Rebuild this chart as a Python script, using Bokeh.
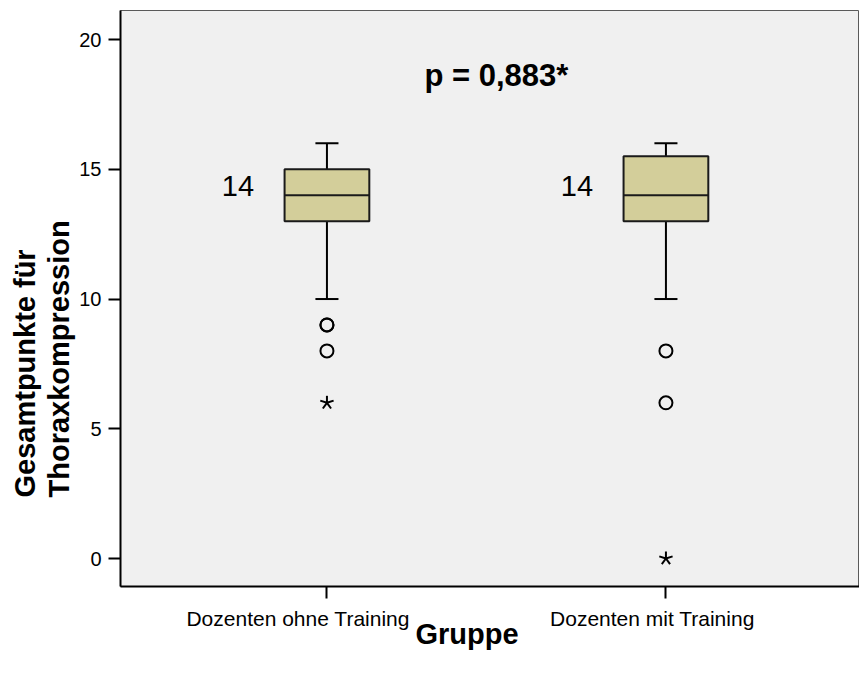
import numpy as np
from bokeh.plotting import figure
from bokeh.models import Range1d, FixedTicker, Title, ColumnDataSource, LinearAxis
from bokeh.core.properties import value
from bokeh.embed import file_html
from bokeh.resources import INLINE

# ---- data ----
groups = ["Dozenten ohne Training", "Dozenten mit Training"]
group_pos = [1, 2]
q1 = [13, 13]
median = [14, 14]
q3 = [15, 15.5]
whisker_low = [10, 10]
whisker_high = [16, 16]
median_labels = ["14", "14"]
outlier_group = [1, 1, 1, 2, 2]
outlier_values = [9, 9, 8, 8, 6]
extreme_group = [1, 2]
extreme_values = [6, 0]
y_ticks = [0, 5, 10, 15, 20]
p_text = "p = 0,883*"
x_title = "Gruppe"

FONT = "Liberation Sans"
box_w = 0.25
cap_w = 0.068
label_shift = [-0.085, -0.04]   # category labels sit slightly left of their ticks

p = figure(width=859, height=678, output_backend="svg", toolbar_location=None,
           x_range=Range1d(0.391, 2.571), y_range=Range1d(-1.079, 21.12),
           min_border_left=120, min_border_right=0, min_border_top=10, min_border_bottom=92)

p.background_fill_color = "#f0f0f0"
p.border_fill_color = "white"
p.outline_line_color = "#5a5a5a"
p.outline_line_width = 1
p.xgrid.visible = False
p.ygrid.visible = False

# axes
for ax in (p.xaxis[0], p.yaxis[0]):
    ax.axis_line_width = 2
    ax.axis_line_color = "black"
    ax.major_tick_line_width = 2
    ax.major_tick_line_color = "black"
    ax.major_tick_out = 12
    ax.major_tick_in = 0
    ax.minor_tick_line_color = None
    ax.major_label_text_font = FONT
    ax.major_label_text_color = "black"

p.yaxis.ticker = FixedTicker(ticks=y_ticks)
p.yaxis.major_label_text_font_size = "20px"
p.yaxis.major_label_standoff = 7

# x axis: tick marks only
p.xaxis.ticker = FixedTicker(ticks=group_pos)
p.xaxis.major_label_text_font_size = "0px"
p.xaxis.major_label_standoff = 0
p.xaxis.major_label_text_alpha = 0

# second x axis carrying the category labels
lab_pos = [round(g + s, 4) for g, s in zip(group_pos, label_shift)]
ax2 = LinearAxis(ticker=FixedTicker(ticks=lab_pos),
                 major_label_overrides={lp: g for lp, g in zip(lab_pos, groups)},
                 axis_line_color=None, major_tick_line_color=None, minor_tick_line_color=None,
                 major_tick_out=0, major_tick_in=0, major_label_standoff=8,
                 major_label_text_font=FONT, major_label_text_font_size="21px",
                 major_label_text_color="black")
p.add_layout(ax2, "below")

# axis titles
p.add_layout(Title(text="Thoraxkompression", text_font=FONT, text_font_size="29px",
                   text_font_style="bold", text_color="black", align="left", offset=89,
                   standoff=3), "left")
p.add_layout(Title(text="Gesamtpunkte für", text_font=FONT, text_font_size="29px",
                   text_font_style="bold", text_color="black", align="left", offset=89,
                   standoff=-2), "left")
p.add_layout(Title(text=x_title, text_font=FONT, text_font_size="29px",
                   text_font_style="bold", text_color="black", align="left", offset=295,
                   vertical_align="top", standoff=-30), "below")

# boxes
src = ColumnDataSource(dict(x=group_pos, q1=q1, med=median, q3=q3, lo=whisker_low, hi=whisker_high,
                            lab=median_labels))
p.segment(x0="x", y0="q3", x1="x", y1="hi", source=src, line_color="black", line_width=2)
p.segment(x0="x", y0="q1", x1="x", y1="lo", source=src, line_color="black", line_width=2)
xs = np.array(group_pos, dtype=float)
p.segment(x0=xs - cap_w / 2, y0=whisker_high, x1=xs + cap_w / 2, y1=whisker_high,
          line_color="black", line_width=2)
p.segment(x0=xs - cap_w / 2, y0=whisker_low, x1=xs + cap_w / 2, y1=whisker_low,
          line_color="black", line_width=2)
p.vbar(x="x", width=box_w, bottom="q1", top="q3", source=src,
       fill_color="#d3ce9a", line_color="#1a1a1a", line_width=2)
p.segment(x0=xs - box_w / 2, y0=median, x1=xs + box_w / 2, y1=median,
          line_color="#1a1a1a", line_width=2)

# median labels
p.text(x=xs - 0.2625, y=median, text=median_labels, text_font=value(FONT),
       text_font_size="29px", text_align="center", text_baseline="middle",
       text_color="black", y_offset=-9)

# outliers
p.scatter(x=outlier_group, y=outlier_values, marker="circle", size=13,
          fill_color=None, line_color="black", line_width=2)

# extremes as 5-armed asterisks
angles = [np.pi / 2 + k * 2 * np.pi / 5 for k in range(5)]
ex_x = [g for g in extreme_group for _ in angles]
ex_y = [v for v in extreme_values for _ in angles]
ex_a = [a for _ in extreme_values for a in angles]
p.ray(x=ex_x, y=ex_y, length=7, length_units="screen", angle=ex_a,
      line_color="black", line_width=2)

# p-value
p.text(x=[1.5], y=[18.62], text=[p_text], text_font=value(FONT), text_font_size="31px",
       text_font_style="bold", text_align="center", text_baseline="alphabetic",
       text_color="black")

open("out.html", "w").write(file_html(p, INLINE))
